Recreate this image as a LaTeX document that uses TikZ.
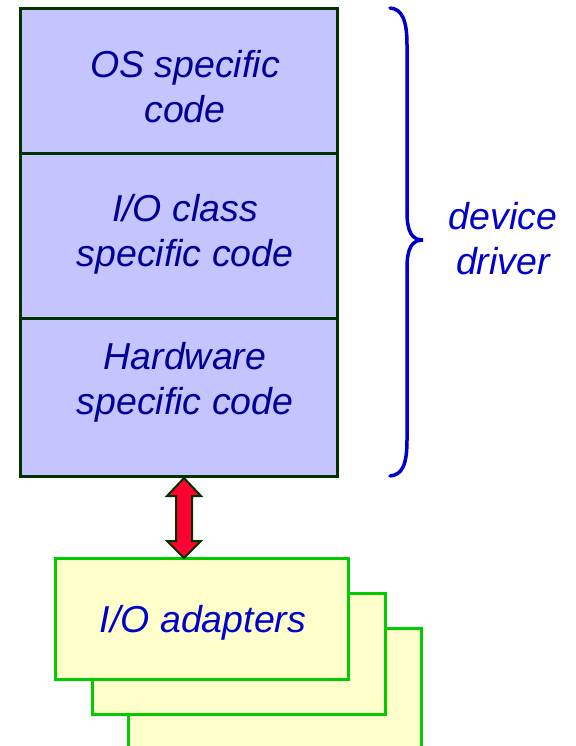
\documentclass[tikz,border=0pt]{standalone}
\usepackage{fontspec}
\setmainfont{Liberation Sans}
\usetikzlibrary{positioning,calc}
\definecolor{layerfill}{HTML}{C4C4FF}
\definecolor{darkgreen}{HTML}{003300}
\definecolor{navytext}{HTML}{000099}
\definecolor{bluetext}{HTML}{0000CC}
\definecolor{arrowred}{HTML}{FF0033}
\definecolor{adgreen}{HTML}{00CC00}
\definecolor{adyellow}{HTML}{FFFFCC}

\begin{document}
\begin{tikzpicture}
[x=1pt,y=-1pt,
layer/.style={shape=rectangle,draw=darkgreen,fill=layerfill,line width=3pt,outer sep=0pt,inner sep=0pt,minimum width=317pt},
adapter/.style={shape=rectangle,draw=adgreen,fill=adyellow,line width=3pt,outer sep=0pt,inner sep=0pt,minimum width=293pt,minimum height=121pt,anchor=north west},
mytext/.style={font=\fontsize{37.5}{45}\selectfont\itshape,align=center},
myarrow/.style={draw=darkgreen,fill=arrowred,line width=2pt,line join=miter},
mybrace/.style={draw=bluetext,line width=3.5pt,line cap=round}]
%%
\useasboundingbox (0,0) rectangle (575,746);
%% driver layers
\node (os) [layer,minimum height=145pt,anchor=north west] at (20,9) {};
\node (ioclass) [layer,minimum height=164pt,below=0pt of os] {};
\node (hw) [layer,minimum height=158pt,below=0pt of ioclass] {};
\node (ostext) [mytext,text=navytext] at (185,86.5) {OS specific\\code};
\node (iotext) [mytext,text=navytext] at (185,234.5) {I/O class\\specific code};
\node (hwtext) [mytext,text=navytext] at (185,382.5) {Hardware\\specific code};
%% brace
\draw[mybrace] (390,8) .. controls (402,9) and (407,20) .. (407,45) -- (407,212)
  .. controls (407,232) and (412,240) .. (423,240)
  .. controls (412,240) and (407,248) .. (407,268) -- (407,440)
  .. controls (407,465) and (402,475) .. (390,476);
\node (driver) [mytext,text=bluetext] at (503,238.5) {device\\driver};
%% adapters
\node (ad3) [adapter] at (128,628) {};
\node (ad2) [adapter] at (92,593) {};
\node (ad1) [adapter] at (55,558) {};
\node (adtext) [mytext,text=bluetext] at (203,622.5) {I/O adapters};
%% arrow
\coordinate (atop) at ([xshift=5.5pt,yshift=-2pt]hw.south);
\coordinate (abot) at (atop |- ad1.north);
\draw[myarrow] (atop) -- ($(atop)+(17,18)$) -- ($(atop)+(8,18)$) -- ($(abot)+(8,-17)$)
  -- ($(abot)+(17,-17)$) -- (abot) -- ($(abot)+(-17,-17)$) -- ($(abot)+(-8,-17)$)
  -- ($(atop)+(-8,18)$) -- ($(atop)+(-17,18)$) -- cycle;
\end{tikzpicture}
\end{document}
